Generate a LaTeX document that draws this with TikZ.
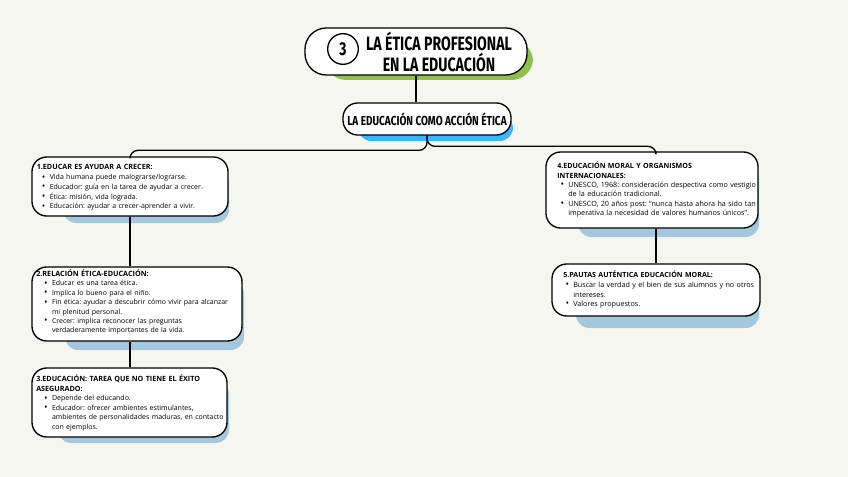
\documentclass[tikz,border=0pt]{standalone}
\usepackage{fontspec}
\setmainfont{Open Sans}
\newfontfamily\ttlfont[FakeStretch=0.73]{Fira Sans}
\newfontfamily\subfont[FakeStretch=0.77]{Fira Sans}
\usetikzlibrary{fit,calc}
\definecolor{bgc}{RGB}{246,246,241}
\definecolor{shgreen}{RGB}{142,192,75}
\definecolor{shbright}{RGB}{56,182,255}
\definecolor{shlight}{RGB}{163,199,222}
\newlength\itmind
\newlength\mylen
\newcommand\bul{\raisebox{-0.25pt}{\fontsize{7}{7}\selectfont\textbullet}}
\newcommand\itm[1]{\par\leftskip=\itmind\noindent\llap{\bul\hspace{3.2pt}}#1}
\newcommand\setup[1]{\raggedright\parindent0pt\setlength\itmind{#1}}
% #1 macro, #2 target width in px, #3 text, #4 font switch
\newcommand\fitsize[4]{\settowidth\mylen{#4\fontsize{10}{12}\selectfont #3}%
  \pgfmathsetmacro#1{10*#2*0.75/\mylen}}
\newcommand\hd[2]{{\bfseries\fontsize{#1}{7}\selectfont #2}}
\AtBeginDocument{%
\fitsize\fsA{149}{Educador: guía en la tarea de ayudar a crecer.}{\frenchspacing}%
\fitsize\fsB{172}{Fin ética: ayudar a descubrir cómo vivir para alcanzar}{\frenchspacing}%
\fitsize\fsC{169}{ambientes de personalidades maduras, en contacto}{\frenchspacing}%
\fitsize\fsD{185}{UNESCO, 1968: consideración despectiva como vestigio}{\frenchspacing}%
\fitsize\fsE{175}{Buscar la verdad y el bien de sus alumnos y no otros}{\frenchspacing}%
\fitsize\ftA{114}{1.EDUCAR ES AYUDAR A CRECER:}{\bfseries\frenchspacing}%
\fitsize\ftB{112}{2.RELACIÓN ÉTICA-EDUCACIÓN:}{\bfseries\frenchspacing}%
\fitsize\ftC{161}{3.EDUCACIÓN: TAREA QUE NO TIENE EL ÉXITO}{\bfseries\frenchspacing}%
\fitsize\ftD{133}{4.EDUCACIÓN MORAL Y ORGANISMOS}{\bfseries\frenchspacing}%
\fitsize\ftE{148}{5.PAUTAS AUTÉNTICA EDUCACIÓN MORAL:}{\bfseries\frenchspacing}%
}
\tikzset{
  boxst/.style={draw=black, line width=1pt, fill=white, inner sep=0pt, rounded corners=11pt},
  shad/.style={fill=#1, rounded corners=10pt},
  txt/.style 2 args={anchor=north west, inner sep=0pt, text width=180pt, font=\fontsize{#1}{#2}\selectfont\frenchspacing},
  conn/.style={draw=black, line width=1pt, rounded corners=6pt}
}
\begin{document}
\begin{tikzpicture}[x=0.75pt,y=-0.75pt]
\fill[bgc] (0,0) rectangle (848,477);
\useasboundingbox (0,0) rectangle (848,477);
% shadows
\fill[shad=shgreen, rounded corners=16pt] (325,40) rectangle (533,80);
\fill[shad=shbright] (358,115) rectangle (513,141);
\fill[shad=shlight] (63,170) rectangle (229,223);
\fill[shad=shlight] (65,280) rectangle (244,350);
\fill[shad=shlight] (58,380) rectangle (229,443);
\fill[shad=shlight] (578,165) rectangle (759,237);
\fill[shad=shlight] (576,275) rectangle (759,328);
% boxes
\node[boxst, rounded corners=16pt, fit={(305,28)(527,75)}] (title) {};
\node[boxst, fit={(343,103)(511,135)}] (sub) {};
\node[boxst, fit={(32,157)(228,216)}] (b1) {};
\node[boxst, fit={(32,267)(242,341)}] (b2) {};
\node[boxst, fit={(32,368)(227,437)}] (b3) {};
\node[boxst, fit={(546,152)(758,228)}] (b4) {};
\node[boxst, fit={(552,264)(760,316)}] (b5) {};
% title content
\node[draw=black, line width=1pt, circle, minimum size=23pt, inner sep=0pt,
      font=\ttlfont\bfseries\fontsize{14}{14}\selectfont] (num) at (343,49) {3};
\node[align=center, inner sep=0pt, font=\ttlfont\bfseries\fontsize{14.5}{15.5}\selectfont] (ttl) at (439,52)
  {LA ÉTICA PROFESIONAL\\EN LA EDUCACIÓN};
\node[inner sep=0pt, font=\subfont\bfseries\fontsize{9.8}{10}\selectfont] (subt) at (427,119)
  {LA EDUCACIÓN COMO ACCIÓN ÉTICA};
% texts
\node[txt={\fsA}{7.3}] (t1) at (36.5,164.5) {\setup{9.75pt}%
  \hd{\ftA}{1.EDUCAR ES AYUDAR A CRECER:}
  \itm{Vida humana puede malograrse/lograrse.}
  \itm{Educador: guía en la tarea de ayudar a crecer.}
  \itm{Ética: misión, vida lograda.}
  \itm{Educación: ayudar a crecer-aprender a vivir.}\par};
\node[txt={\fsB}{7.05}] (t2) at (36,269.5) {\setup{11.8pt}%
  \hd{\ftB}{2.RELACIÓN ÉTICA-EDUCACIÓN:}
  \itm{Educar es una tarea ética.}
  \itm{Implica lo bueno para el niño.}
  \itm{Fin ética: ayudar a descubrir cómo vivir para alcanzar\\ mi plenitud personal.}
  \itm{Crecer: implica reconocer las preguntas\\ verdaderamente importantes de la vida.}\par};
\node[txt={\fsC}{7.2}] (t3) at (36,374.5) {\setup{11.8pt}%
  \hd{\ftC}{3.EDUCACIÓN: TAREA QUE NO TIENE EL ÉXITO\\ ASEGURADO:}
  \itm{Depende del educando.}
  \itm{Educador: ofrecer ambientes estimulantes,\\ ambientes de personalidades maduras, en contacto\\ con ejemplos.}\par};
\node[txt={\fsD}{7.0}] (t4) at (557,162) {\setup{8.25pt}%
  \hd{\ftD}{4.EDUCACIÓN MORAL Y ORGANISMOS\\ INTERNACIONALES:}
  \itm{UNESCO, 1968: consideración despectiva como vestigio\\ de la educación tradicional.}
  \itm{UNESCO, 20 años post: “nunca hasta ahora ha sido tan\\ imperativa la necesidad de valores humanos únicos”.}\par};
\node[txt={\fsE}{7.2}] (t5) at (563,271) {\setup{7.5pt}%
  \hd{\ftE}{5.PAUTAS AUTÉNTICA EDUCACIÓN MORAL:}
  \itm{Buscar la verdad y el bien de sus alumnos y no otros\\ intereses.}
  \itm{Valores propuestos.}\par};
% connectors
\draw[conn] (title.south) -- (title.south |- sub.north);
\draw[conn] (sub.south) |- ($(b1.north)+(0,-6)$) -- (b1.north);
\draw[conn] (sub.south) |- ($(b5.north |- b4.north)+(0,-5)$) -- (b5.north |- b4.north);
\draw[conn] (b1.south) -- (b1.south |- b2.north);
\draw[conn] (b1.south |- b2.south) -- (b1.south |- b3.north);
\draw[conn] (b5.north |- b4.south) -- (b5.north);
\end{tikzpicture}
\end{document}
